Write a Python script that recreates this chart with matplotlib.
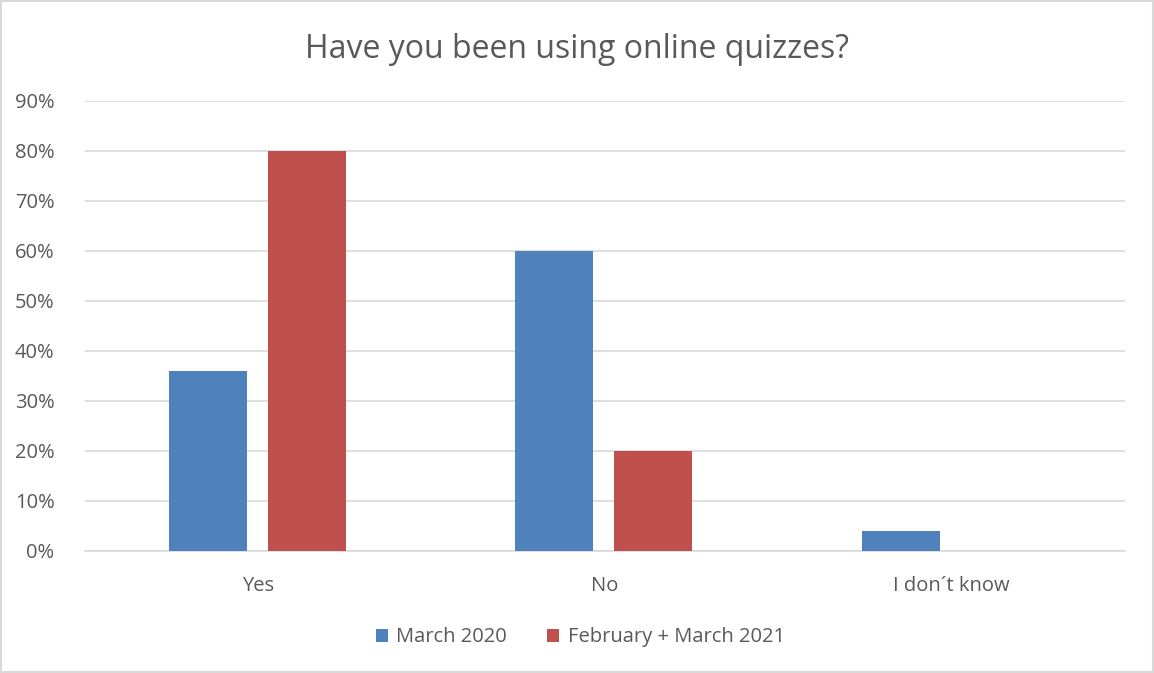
import matplotlib
matplotlib.use("Agg")
import matplotlib.pyplot as plt
import numpy as np
from matplotlib.patches import Rectangle

categories = ["Yes", "No", "I don\u00b4t know"]
march_2020 = [0.36, 0.60, 0.04]
feb_march_2021 = [0.80, 0.20, 0.0]
series_names = ["March 2020", "February + March 2021"]
yticks = np.arange(0, 1.0, 0.1)

plt.rcParams['font.family'] = ['Open Sans', 'DejaVu Sans']
text_color = "#595959"

fig = plt.figure(figsize=(11.54, 6.73), dpi=100)
ax = fig.add_axes([0.0737, 0.1813, 0.9013, 0.6687])

x = np.arange(len(categories))
width = 0.225
ax.bar(x - 0.146, march_2020, width, color="#4F81BD", label=series_names[0], zorder=3)
ax.bar(x + 0.139, feb_march_2021, width, color="#C0504D", label=series_names[1], zorder=3)

ax.set_xlim(-0.5, 2.5)
ax.set_ylim(0, 0.9)
ax.set_yticks(yticks)
ax.set_yticklabels(["%d%%" % round(v * 100) for v in yticks], color=text_color, fontsize=14.5)
ax.set_xticks(x)
ax.set_xticklabels(categories, color=text_color, fontsize=14.5)
ax.tick_params(axis="y", length=0, pad=22)
ax.tick_params(axis="x", length=0, pad=18)
ax.grid(axis="y", color="#D9D9D9", linewidth=1.2, zorder=0)
for s in ["top", "right", "left"]:
    ax.spines[s].set_visible(False)
ax.spines["bottom"].set_color("#D9D9D9")
ax.spines["bottom"].set_linewidth(1.2)

fig.text(0.5, 0.927, "Have you been using online quizzes?", ha="center", va="center",
         fontsize=23, color=text_color)

leg = fig.legend(loc="center", bbox_to_anchor=(0.503, 0.053), ncol=2, frameon=False,
                 fontsize=14.5, handlelength=0.6, handleheight=0.6, handletextpad=0.4,
                 columnspacing=2.0)
for t in leg.get_texts():
    t.set_color(text_color)

fig.patches.append(Rectangle((0.001, 0.001), 0.998, 0.998, transform=fig.transFigure,
                             fill=False, edgecolor="#D9D9D9", linewidth=1.5))

fig.savefig("out.png", dpi=100)
